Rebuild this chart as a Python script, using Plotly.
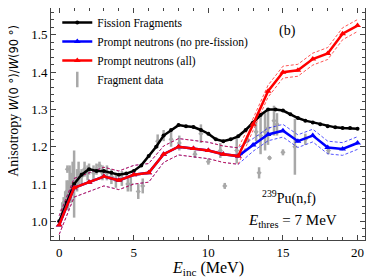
import plotly.graph_objects as go

# ---------------- data ----------------
E_ff = [0, 0.5, 1, 1.5, 2, 2.5, 3, 3.5, 4, 4.5, 5, 5.5, 6, 6.5, 7, 7.5, 8, 8.5, 9, 9.5,
        10, 10.5, 11, 11.5, 12, 12.5, 13, 13.5, 14, 14.5, 15, 15.5, 16, 16.5, 17, 17.5,
        18, 18.5, 19, 19.5, 20]
A_ff = [1.00, 1.05, 1.10, 1.125, 1.14, 1.135, 1.135, 1.13, 1.125, 1.128, 1.135, 1.15,
        1.175, 1.20, 1.23, 1.245, 1.258, 1.255, 1.253, 1.245, 1.235, 1.22, 1.215, 1.22,
        1.228, 1.245, 1.265, 1.285, 1.30, 1.30, 1.297, 1.287, 1.277, 1.27, 1.265, 1.26,
        1.255, 1.252, 1.25, 1.25, 1.248]

E_pn = [0, 1, 2, 3, 4, 5, 6, 7, 8, 9, 10, 11, 12, 13, 14, 15, 16, 17, 18, 19, 20]
A_nopre = [0.99, 1.09, 1.105, 1.12, 1.11, 1.125, 1.13, 1.18, 1.20, 1.195, 1.19, 1.18,
           1.175, 1.205, 1.233, 1.243, 1.215, 1.23, 1.198, 1.194, 1.21]
A_all = [0.99, 1.09, 1.105, 1.12, 1.11, 1.125, 1.13, 1.18, 1.20, 1.195, 1.19, 1.18,
         1.175, 1.26, 1.349, 1.40, 1.405, 1.435, 1.45, 1.503, 1.525]
err_nopre = [0.025, 0.025, 0.025, 0.025, 0.025, 0.025, 0.025, 0.022, 0.022, 0.022, 0.022,
             0.022, 0.022, 0.017, 0.017, 0.017, 0.017, 0.017, 0.017, 0.017, 0.017]
err_all = [0.025, 0.025, 0.025, 0.025, 0.025, 0.025, 0.025, 0.022, 0.022, 0.022, 0.022,
           0.022, 0.022, 0.016, 0.016, 0.016, 0.016, 0.016, 0.016, 0.016, 0.016]

E_dat = [0.2, 0.3, 0.4, 0.5, 0.55, 0.6, 0.7, 0.8, 0.9, 1.0, 1.2, 1.3, 1.5, 1.7, 1.9, 2.0,
         2.3, 2.5, 2.7, 2.9, 3.2, 3.5, 3.8, 4.2, 4.6, 4.8, 5.3, 5.6, 6.6, 7.0, 7.5, 8.05,
         9.1, 9.5, 10.0, 10.8, 11.1, 11.9, 12.6, 13.2, 13.4, 13.5, 13.8, 14.0, 14.1, 14.4,
         14.6, 15.0, 15.8, 16.5, 18.05]
A_dat = [1.03, 1.05, 1.06, 1.08, 1.14, 1.07, 1.10, 1.09, 1.12, 1.10, 1.11, 1.13, 1.12,
         1.14, 1.13, 1.14, 1.13, 1.14, 1.15, 1.13, 1.13, 1.12, 1.11, 1.115, 1.10, 1.10,
         1.08, 1.095, 1.215, 1.23, 1.22, 1.21, 1.18, 1.235, 1.16, 1.19, 1.095, 1.19,
         1.22, 1.24, 1.13, 1.23, 1.24, 1.25, 1.17, 1.27, 1.26, 1.185, 1.20, 1.22, 1.19]
e_dat = [0.02, 0.015, 0.02, 0.03, 0.01, 0.04, 0.05, 0.04, 0.04, 0.09, 0.03, 0.03, 0.02,
         0.02, 0.02, 0.015, 0.02, 0.015, 0.01, 0.02, 0.02, 0.02, 0.02, 0.02, 0.02, 0.02,
         0.02, 0.02, 0.018, 0.015, 0.02, 0.02, 0.01, 0.025, 0.008, 0.02, 0.008, 0.035,
         0.01, 0.025, 0.015, 0.05, 0.05, 0.045, 0.005, 0.04, 0.03, 0.008, 0.075, 0.015, 0.01]

serif = "Liberation Serif"
RED = "#ff0000"
BLUE = "#0000ff"
GRAY = "#a8a8a8"

fig = go.Figure()

# fragment data (legend entry supplied by a proxy trace at the end)
fig.add_trace(go.Scatter(
    x=E_dat, y=A_dat, mode="markers", name="Fragment data", showlegend=False,
    marker=dict(symbol="diamond", size=4, color=GRAY),
    error_y=dict(type="data", array=e_dat, color=GRAY, thickness=2.5, width=0),
))

# bands (blue first, red on top)
for A, err, col in [(A_nopre, err_nopre, BLUE), (A_all, err_all, RED)]:
    for sgn in (1, -1):
        fig.add_trace(go.Scatter(
            x=E_pn, y=[a + sgn * e for a, e in zip(A, err)], mode="lines",
            line=dict(color=col, width=0.9, dash="3px,2px"), opacity=0.75,
            showlegend=False, hoverinfo="skip"))

fig.add_trace(go.Scatter(
    x=E_ff, y=A_ff, mode="lines+markers", name="Fission Fragments",
    line=dict(color="black", width=2.5), marker=dict(symbol="circle", size=4, color="black")))
fig.add_trace(go.Scatter(
    x=E_pn, y=A_nopre, mode="lines+markers", name="Prompt neutrons (no pre-fission)",
    line=dict(color=BLUE, width=2.5), marker=dict(symbol="triangle-up", size=6, color=BLUE)))
fig.add_trace(go.Scatter(
    x=E_pn, y=A_all, mode="lines+markers", name="Prompt neutrons (all)",
    line=dict(color=RED, width=2.5), marker=dict(symbol="triangle-up", size=6, color=RED)))
# legend proxy for the fragment data (no drawn mark)
fig.add_trace(go.Scatter(
    x=[None], y=[None], mode="markers", name="Fragment data",
    marker=dict(symbol="line-ns", size=11, color=GRAY, line=dict(width=2.5, color=GRAY))))

axis_common = dict(showgrid=False, zeroline=False, showline=True, linecolor="#444",
                   linewidth=1, mirror="ticks", ticks="inside", ticklen=5, tickcolor="#444",
                   tickfont=dict(family=serif, size=13, color="black"))

fig.update_xaxes(range=[-0.55, 20.5], dtick=5, tick0=0,
                 minor=dict(dtick=1, ticks="inside", ticklen=3, tickcolor="#444"),
                 **axis_common)
fig.update_yaxes(range=[0.95, 1.572], dtick=0.1, tick0=1.0, tickformat=".1f",
                 minor=dict(dtick=0.02, ticks="inside", ticklen=3, tickcolor="#444"),
                 **axis_common)

# the page body has an 8px margin, so the figure is 8px smaller and margins shifted
fig.update_layout(
    width=366, height=272,
    margin=dict(l=43, r=9, t=0, b=40, autoexpand=False),
    paper_bgcolor="white", plot_bgcolor="white",
    legend=dict(x=0.02, y=1.0, xanchor="left", yanchor="top",
                font=dict(family=serif, size=11.5, color="black"),
                bgcolor="rgba(0,0,0,0)", tracegroupgap=0, traceorder="normal",
                itemwidth=30),
    annotations=[
        dict(text="<i>E</i><sub>inc</sub> (MeV)", x=0.5, y=0, xref="paper", yref="paper",
             xanchor="center", yanchor="middle", yshift=-28, showarrow=False,
             font=dict(family=serif, size=16, color="black")),
        dict(text="Anisotropy <span style='font-family:DejaVu Sans;font-size:11.5px'><i>W</i>(0 °)/<i>W</i>(90 °)</span>",
             x=0, y=0.6, xref="paper", yref="paper", xanchor="center", yanchor="middle",
             xshift=-37, textangle=-90, showarrow=False,
             font=dict(family=serif, size=14, color="black")),
        dict(text="(b)", x=15.3, y=1.51, xref="x", yref="y", showarrow=False,
             font=dict(family=serif, size=14, color="black")),
        dict(text="<sup>239</sup>Pu(n,f)", x=15.4, y=1.065, xref="x", yref="y",
             xanchor="center", showarrow=False,
             font=dict(family=serif, size=14, color="black")),
        dict(text="<i>E</i><sub>thres</sub> = 7 MeV", x=15.67, y=1.0, xref="x", yref="y",
             xanchor="center", showarrow=False,
             font=dict(family=serif, size=15, color="black")),
    ],
)

fig.write_html("out.html")
